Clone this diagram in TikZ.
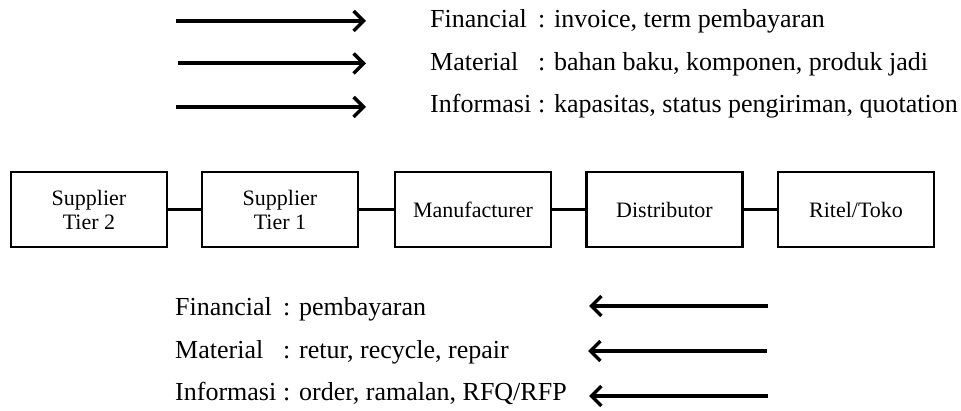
\documentclass[tikz,border=0pt]{standalone}
\usepackage{fontspec}
\setmainfont{Liberation Serif}
\usetikzlibrary{arrows.meta}
\newcommand{\lbl}[1]{\makebox[108pt][l]{#1}}
\begin{document}
\begin{tikzpicture}[x=1pt,y=1pt,
  entity/.style={draw, line width=2.2pt, minimum width=156pt, minimum height=75pt, inner sep=0pt, align=center, font=\fontsize{22}{24}\selectfont},
  link/.style={line width=2.2pt},
  flow/.style={line width=4pt, -{Straight Barb[length=10pt,width=20pt,line width=3.4pt]}},
  item/.style={anchor=base west, inner sep=0pt, font=\fontsize{26}{30}\selectfont}]
\useasboundingbox (0,0) rectangle (961,411);
% boxes
\node[entity] (s2) at (89,201.5) {Supplier\\Tier 2};
\node[entity] (s1) at (280,201.5) {Supplier\\Tier 1};
\node[entity] (mf) at (473,201.5) {Manufacturer};
\node[entity] (ds) at (664.5,201.5) {Distributor};
\node[entity] (rt) at (856,201.5) {Ritel/Toko};
\draw[link] (s2) -- (s1);
\draw[link] (s1) -- (mf);
\draw[link] (mf) -- (ds);
\draw[link] (ds) -- (rt);
% top flows
\coordinate (a1s) at (176,390); \coordinate (a1e) at (366,390);
\coordinate (a2s) at (178,347.5); \coordinate (a2e) at (366,347.5);
\coordinate (a3s) at (176,304); \coordinate (a3e) at (366,304);
\draw[flow] (a1s) -- (a1e);
\draw[flow] (a2s) -- (a2e);
\draw[flow] (a3s) -- (a3e);
\node[item] (t1) at (430,383) {\lbl{Financial}: invoice, term pembayaran};
\node[item] (t2) at (430,340) {\lbl{Material}: bahan baku, komponen, produk jadi};
\node[item] (t3) at (430,298) {\lbl{Informasi}: kapasitas, status pengiriman, quotation};
% bottom flows
\coordinate (b1s) at (768,105); \coordinate (b1e) at (589,105);
\coordinate (b2s) at (767,60); \coordinate (b2e) at (588,60);
\coordinate (b3s) at (768,15); \coordinate (b3e) at (589,15);
\draw[flow] (b1s) -- (b1e);
\draw[flow] (b2s) -- (b2e);
\draw[flow] (b3s) -- (b3e);
\node[item] (u1) at (175,95) {\lbl{Financial}: pembayaran};
\node[item] (u2) at (175,52) {\lbl{Material}: retur, recycle, repair};
\node[item] (u3) at (175,10) {\lbl{Informasi}: order, ramalan, RFQ/RFP};
\end{tikzpicture}
\end{document}
